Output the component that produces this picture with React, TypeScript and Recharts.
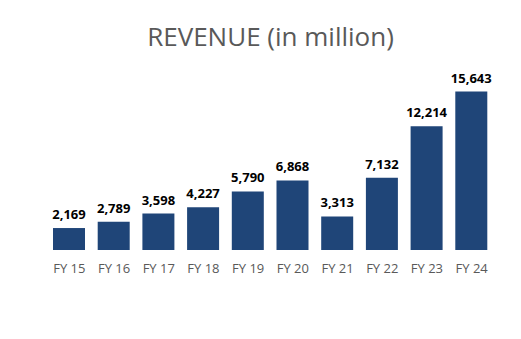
import React from "react";
import { BarChart, Bar, XAxis, YAxis, LabelList } from "recharts";

const categories = ["FY 15", "FY 16", "FY 17", "FY 18", "FY 19", "FY 20", "FY 21", "FY 22", "FY 23", "FY 24"];
const revenue = [2169, 2789, 3598, 4227, 5790, 6868, 3313, 7132, 12214, 15643];

const data = categories.map((c, i) => ({ name: c, value: revenue[i] }));

const fmt = (v: any) => Number(v).toLocaleString("en-US");

export default function App() {
  return (
    <div style={{ position: "absolute", left: 0, top: 0, width: 521, height: 339, background: "#fff", fontFamily: "'Open Sans', sans-serif" }}>
      <div
        style={{
          position: "absolute",
          left: 0,
          width: 541,
          top: 18,
          textAlign: "center",
          fontSize: 26,
          color: "#595959",
          lineHeight: "36px",
        }}
      >
        REVENUE (in million)
      </div>
      <BarChart
        width={521}
        height={339}
        data={data}
        margin={{ top: 88, right: 27, bottom: 59, left: 47 }}
        style={{ position: "absolute", left: 0, top: 0 }}
      >
        <XAxis
          dataKey="name"
          axisLine={false}
          tickLine={false}
          tickMargin={8}
          height={30}
          interval={0}
          tick={{ fill: "#595959", fontSize: 13, fontFamily: "'Open Sans', sans-serif" }}
        />
        <YAxis hide domain={[0, 16000]} />
        <Bar dataKey="value" fill="#1F4578" barSize={32} isAnimationActive={false}>
          <LabelList
            dataKey="value"
            position="top"
            offset={9}
            formatter={fmt}
            style={{ fill: "#000", fontSize: 13, fontWeight: 700, fontFamily: "'Open Sans', sans-serif" }}
          />
        </Bar>
      </BarChart>
    </div>
  );
}
